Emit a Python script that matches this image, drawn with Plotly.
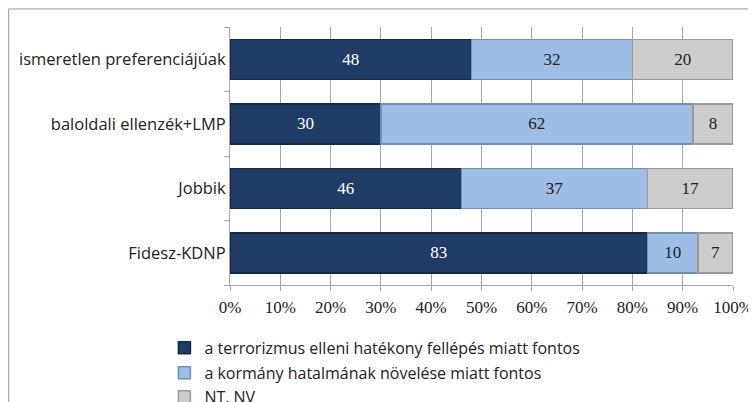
import plotly.graph_objects as go

# categories (bottom to top) and the three shares
groups = ["Fidesz-KDNP", "Jobbik", "baloldali ellenzék+LMP", "ismeretlen preferenciájúak"]
terror = [83, 46, 30, 48]
kormany = [10, 37, 62, 32]
ntnv = [7, 17, 8, 20]

series_names = [
    "a terrorizmus elleni hatékony fellépés miatt fontos",
    "a kormány hatalmának növelése miatt fontos",
    "NT, NV",
]
tick_vals = [0, 10, 20, 30, 40, 50, 60, 70, 80, 90, 100]
tick_text = [f"{v}%" for v in tick_vals]

colors = ["#1f3b66", "#9dbde5", "#cdcdcd"]
edge = ["#12284a", "#6f8fb8", "#9a9a9a"]
text_col = ["white", "#222222", "#222222"]
legend_ids = ["legend", "legend2", "legend3"]
legend_y = [-0.178, -0.275, -0.368]

serif = "Liberation Serif"
sans = "Open Sans"

fig = go.Figure()
for vals, name, c, e, tc, lg in zip([terror, kormany, ntnv], series_names, colors, edge, text_col, legend_ids):
    fig.add_trace(go.Bar(
        y=groups, x=vals, name=name, orientation="h",
        marker=dict(color=c, line=dict(color=e, width=1.5)),
        text=vals, textposition="inside", insidetextanchor="middle",
        textfont=dict(family=serif, size=17, color=tc),
        width=0.62, legend=lg,
    ))

# the page body adds 8px, so margins are shifted by that
fig.update_layout(
    barmode="stack",
    width=756, height=402,
    margin=dict(l=222, r=31, t=19, b=125, autoexpand=False),
    paper_bgcolor="white", plot_bgcolor="white",
    font=dict(family=sans, size=15, color="#222222"),
    showlegend=True,
)
# one legend per series so each row sits where the reference has it
for lg, ly in zip(legend_ids, legend_y):
    fig.update_layout({lg: dict(
        x=-0.1304, y=ly, xanchor="left", yanchor="top",
        font=dict(family=sans, size=16), bgcolor="rgba(0,0,0,0)",
        itemwidth=30,
    )})

fig.update_xaxes(
    range=[0, 100], tickvals=tick_vals, ticktext=tick_text,
    showgrid=True, gridcolor="#a6a6a6", gridwidth=1,
    showline=True, linecolor="#a6a6a6", ticks="outside", ticklen=5, tickcolor="#a6a6a6",
    tickfont=dict(family=serif, size=17), zeroline=False, ticklabelstandoff=2,
)
fig.update_yaxes(
    showline=True, linecolor="#a6a6a6", ticks="outside", ticklen=5, tickcolor="#a6a6a6",
    tickson="boundaries", tickfont=dict(family=sans, size=16.5), showgrid=False,
    categoryorder="array", categoryarray=groups,
)

# outer frame lines (top and left) of the chart box
fig.add_shape(type="line", xref="paper", yref="paper", x0=-0.44, x1=1.07, y0=1.07, y1=1.07,
              line=dict(color="#999999", width=1))
fig.add_shape(type="line", xref="paper", yref="paper", x0=-0.44, x1=-0.44, y0=1.07, y1=-0.6,
              line=dict(color="#999999", width=1))

fig.write_html("out.html")
